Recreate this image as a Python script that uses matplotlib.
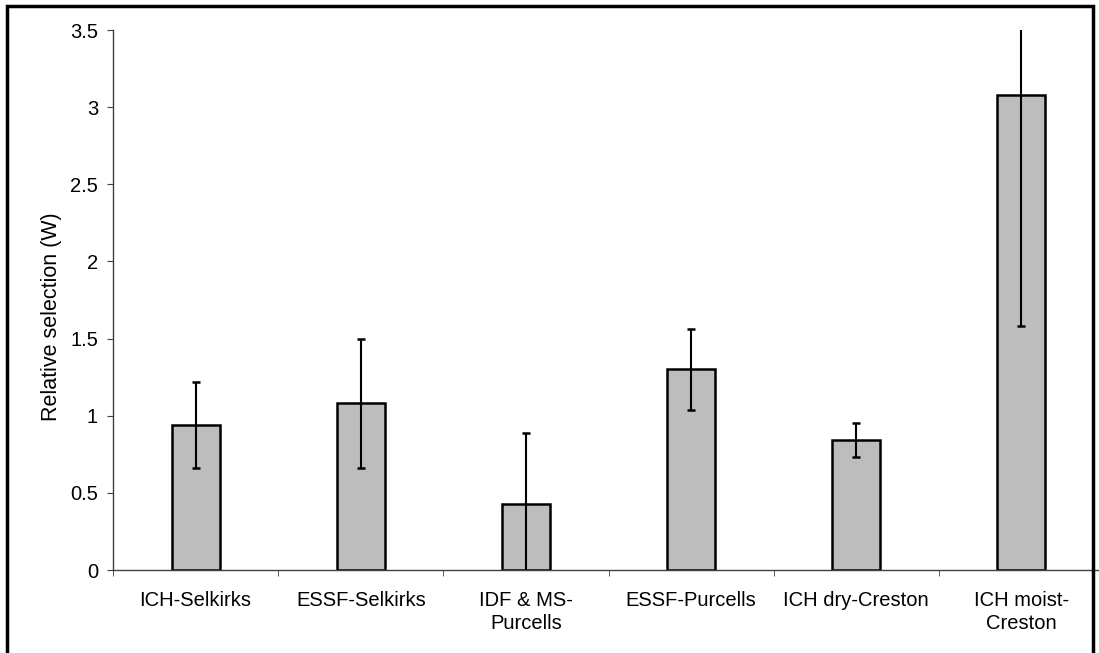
import matplotlib
matplotlib.use('Agg')
import matplotlib.pyplot as plt
from matplotlib.patches import Rectangle

# values
categories = ['ICH-Selkirks', 'ESSF-Selkirks', 'IDF & MS-\nPurcells',
              'ESSF-Purcells', 'ICH dry-Creston', 'ICH moist-\nCreston']
selection = [0.94, 1.08, 0.43, 1.30, 0.84, 3.08]
errors = [0.28, 0.42, 0.46, 0.26, 0.11, 1.50]
yticks = [0, 0.5, 1, 1.5, 2, 2.5, 3, 3.5]

plt.rcParams['font.family'] = ['Liberation Sans', 'DejaVu Sans']

fig = plt.figure(figsize=(10.99, 6.53), dpi=100)
# axes runs past the right edge of the frame, like the original
ax = fig.add_axes([113 / 1099, 1 - 570 / 653, 991 / 1099, 540 / 653])

x = list(range(len(categories)))
ax.bar(x, selection, width=0.29, color='#bdbdbd', edgecolor='black',
       linewidth=1.8, zorder=2)
ax.errorbar(x, selection, yerr=errors, fmt='none', ecolor='black',
            elinewidth=1.5, capsize=3, capthick=1.8, zorder=3)

ax.set_xlim(-0.5, len(categories) - 0.5)
ax.set_ylim(0, 3.5)
ax.set_yticks(yticks)
ax.set_yticklabels([('%g' % t) for t in yticks], fontsize=14.5)
ax.set_xticks(x)
ax.set_xticklabels(categories, fontsize=14.5, linespacing=1.3)
ax.set_xticks([i + 0.5 for i in range(-1, len(categories))], minor=True)
ax.tick_params(axis='x', which='major', length=0, pad=15)
ax.tick_params(axis='x', which='minor', length=4, direction='out', color='#404040')
ax.tick_params(axis='y', length=4.3, direction='out', color='#404040', pad=6.5)

ax.set_ylabel('Relative selection (W)', fontsize=15.5)
ax.yaxis.set_label_coords(-0.0515, 0.469)

for s in ['top', 'right']:
    ax.spines[s].set_visible(False)
ax.spines['left'].set_color('#404040')
ax.spines['bottom'].set_color('#404040')
ax.spines['left'].set_linewidth(1)
ax.spines['bottom'].set_linewidth(1)

# outer frame around the chart
frame = Rectangle((7 / 1099, -0.05), (1093 - 7) / 1099, 1.05 - 6 / 653,
                  transform=fig.transFigure, fill=False, edgecolor='black',
                  linewidth=2.5)
fig.add_artist(frame)

fig.savefig('out.png', dpi=100)
